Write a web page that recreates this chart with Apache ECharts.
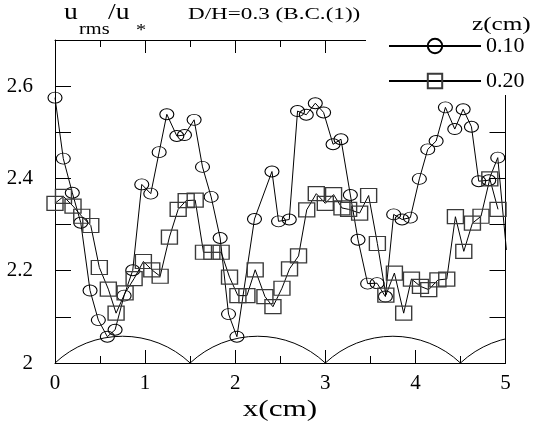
<!DOCTYPE html>
<html>
<head>
<meta charset="utf-8">
<script src="https://cdn.jsdelivr.net/npm/echarts@6/dist/echarts.min.js"></script>
<style>
  html, body { margin: 0; padding: 0; background: #fff; }
  #chart { width: 537px; height: 425px; }
</style>
</head>
<body>
<div id="chart"></div>
<script>
// u_rms/u_* profiles along x for two heights z (cm), D/H = 0.3
const seriesNames = ['0.10', '0.20'];

const xLow = [0, 0.092, 0.192, 0.286, 0.389, 0.481, 0.581, 0.667, 0.767, 0.863,
  0.963, 1.063, 1.156, 1.241, 1.352, 1.437, 1.544, 1.637, 1.733, 1.833,
  1.926, 2.019, 2.214, 2.408, 2.481, 2.6, 2.692, 2.789, 2.889, 2.981,
  3.086, 3.174, 3.278, 3.363, 3.47, 3.574, 3.667, 3.759, 3.852, 3.944,
  4.044, 4.137, 4.23, 4.333, 4.437, 4.53, 4.622, 4.703, 4.814, 4.914, 5.01];
const yLow = [2.575, 2.443, 2.369, 2.304, 2.157, 2.093, 2.057, 2.072, 2.146, 2.201,
  2.387, 2.367, 2.457, 2.539, 2.492, 2.494, 2.527, 2.425, 2.36, 2.271,
  2.106, 2.057, 2.312, 2.415, 2.307, 2.311, 2.546, 2.538, 2.563, 2.543,
  2.474, 2.485, 2.364, 2.267, 2.172, 2.173, 2.144, 2.322, 2.311, 2.315,
  2.399, 2.463, 2.481, 2.554, 2.507, 2.55, 2.512, 2.394, 2.396, 2.445, 2.245];

const xHigh = [0, 0.094, 0.2, 0.297, 0.397, 0.492, 0.592, 0.678, 0.778, 0.878,
  0.981, 1.074, 1.167, 1.27, 1.367, 1.456, 1.556, 1.648, 1.741, 1.844,
  1.937, 2.03, 2.13, 2.222, 2.33, 2.419, 2.519, 2.603, 2.703, 2.794,
  2.9, 3.0, 3.092, 3.185, 3.259, 3.381, 3.481, 3.578, 3.672, 3.767,
  3.87, 3.956, 4.056, 4.148, 4.25, 4.348, 4.444, 4.537, 4.633, 4.728,
  4.826, 4.917];
const yHigh = [2.346, 2.361, 2.34, 2.318, 2.298, 2.207, 2.16, 2.108, 2.152, 2.183,
  2.22, 2.202, 2.188, 2.273, 2.333, 2.352, 2.353, 2.24, 2.24, 2.24,
  2.186, 2.146, 2.146, 2.202, 2.144, 2.122, 2.162, 2.204, 2.232, 2.332,
  2.367, 2.346, 2.365, 2.336, 2.333, 2.325, 2.363, 2.259, 2.147, 2.195,
  2.108, 2.182, 2.166, 2.159, 2.18, 2.182, 2.317, 2.242, 2.303, 2.318,
  2.399, 2.333];

// cylinder roughness elements on the bed (centres, half chord, cap rise)
const cylinderCentres = [0.75, 2.25, 3.75, 5.25];
const cylinderHalfChord = [0.75];
const cylinderRise = [0.058];
const bedLevel = [2];

const xTicks = { min: 0, max: 5, step: 1 };
const yTicks = { min: 2, max: 2.7, step: 0.1 };

const FONT = '"Liberation Serif", "Times New Roman", serif';

const chart = echarts.init(document.getElementById('chart'), null, { renderer: 'canvas' });

const pairs = (xs, ys) => xs.map((x, i) => [x, ys[i]]);

const axisLineStyle = { color: '#000', width: 1 };

function xAxisDef(position, labels) {
  return {
    type: 'value', position: position,
    min: xTicks.min, max: xTicks.max, interval: xTicks.step,
    axisLine: { show: true, onZero: false, lineStyle: axisLineStyle },
    axisTick: { show: true, inside: true, length: 13, lineStyle: axisLineStyle },
    minorTick: { show: true, splitNumber: 2, length: 7, lineStyle: axisLineStyle },
    splitLine: { show: false },
    axisLabel: {
      show: labels, color: '#000', fontSize: 21, fontFamily: FONT, margin: 10
    }
  };
}

function yAxisDef(position, labels) {
  return {
    type: 'value', position: position,
    min: yTicks.min, max: yTicks.max, interval: yTicks.step,
    axisLine: { show: true, onZero: false, lineStyle: axisLineStyle },
    axisTick: { show: true, inside: true, length: 16, lineStyle: axisLineStyle },
    splitLine: { show: false },
    axisLabel: {
      show: labels, color: '#000', fontSize: 21, fontFamily: FONT, margin: 22,
      formatter: function (v) {
        const k = Math.round(v * 10);
        return (k % 2 === 0 && k < 27) ? String(+(v.toFixed(1))) : '';
      }
    }
  };
}

const hollow = { color: 'rgba(0,0,0,0)', borderColor: '#000', borderWidth: 1 };

const option = {
  animation: false,
  backgroundColor: '#fff',
  grid: { left: 55, right: 31.5, top: 40, bottom: 62, containLabel: false },
  xAxis: [xAxisDef('bottom', true), xAxisDef('top', false)],
  yAxis: [yAxisDef('left', true), yAxisDef('right', false)],
  legend: {
    orient: 'vertical',
    left: 366, top: 30,
    padding: [5, 6, 3, 22],
    backgroundColor: '#fff',
    itemWidth: 92, itemHeight: 18, itemGap: 13,
    data: seriesNames,
    textStyle: { color: '#000', fontSize: 22, fontFamily: FONT },
    selectedMode: false
  },
  graphic: [
    { type: 'text', x: 64, y: 13, scaleX: 1.2,
      style: { text: 'u', fontSize: 23, fontFamily: FONT, fill: '#000', align: 'left', verticalAlign: 'middle' } },
    { type: 'text', x: 79, y: 30, scaleX: 1.2,
      style: { text: 'rms', fontSize: 17, fontFamily: FONT, fill: '#000', align: 'left', verticalAlign: 'middle' } },
    { type: 'text', x: 108, y: 13, scaleX: 1.2,
      style: { text: '/u', fontSize: 23, fontFamily: FONT, fill: '#000', align: 'left', verticalAlign: 'middle' } },
    { type: 'text', x: 136, y: 31, scaleX: 1.2,
      style: { text: '*', fontSize: 17, fontFamily: FONT, fill: '#000', align: 'left', verticalAlign: 'middle' } },
    { type: 'text', x: 188, y: 15, scaleX: 1.36,
      style: { text: 'D/H=0.3 (B.C.(1))', fontSize: 17, fontFamily: FONT, fill: '#000', align: 'left', verticalAlign: 'middle' } },
    { type: 'text', x: 472, y: 25, scaleX: 1.4, z: 10,
      style: { text: 'z(cm)', fontSize: 18, fontFamily: FONT, fill: '#000', align: 'left', verticalAlign: 'middle' } },
    { type: 'text', x: 280, y: 410, scaleX: 1.3,
      style: { text: 'x(cm)', fontSize: 24, fontFamily: FONT, fill: '#000', align: 'center', verticalAlign: 'middle' } }
  ],
  series: [
    {
      name: seriesNames[0], type: 'line',
      data: pairs(xLow, yLow),
      symbol: 'circle', symbolSize: [14, 11],
      itemStyle: hollow,
      lineStyle: { color: '#000', width: 1 },
      clip: true, silent: true, z: 3
    },
    {
      name: seriesNames[1], type: 'line',
      data: pairs(xHigh, yHigh),
      symbol: 'rect', symbolSize: [16, 14],
      itemStyle: { color: 'rgba(0,0,0,0)', borderColor: '#3a3a3a', borderWidth: 1.3 },
      lineStyle: { color: '#000', width: 1 },
      clip: true, silent: true, z: 3
    },
    {
      // circular cross-sections of the bed cylinders
      type: 'custom',
      data: cylinderCentres.map(c => [c, bedLevel[0]]),
      clip: true, silent: true, z: 2,
      renderItem: function (params, api) {
        const c = api.value(0);
        const base = api.value(1);
        const l = api.coord([c - cylinderHalfChord[0], base]);
        const r = api.coord([c + cylinderHalfChord[0], base]);
        const t = api.coord([c, base + cylinderRise[0]]);
        const half = (r[0] - l[0]) / 2;
        const s = l[1] - t[1];
        const rad = (half * half + s * s) / (2 * s);
        const a = Math.asin(Math.min(1, half / rad));
        return {
          type: 'arc',
          shape: {
            cx: (l[0] + r[0]) / 2, cy: t[1] + rad, r: rad,
            startAngle: -Math.PI / 2 - a, endAngle: -Math.PI / 2 + a, clockwise: true
          },
          style: { fill: 'none', stroke: '#000', lineWidth: 1 }
        };
      }
    }
  ]
};

chart.setOption(option);
</script>
</body>
</html>
